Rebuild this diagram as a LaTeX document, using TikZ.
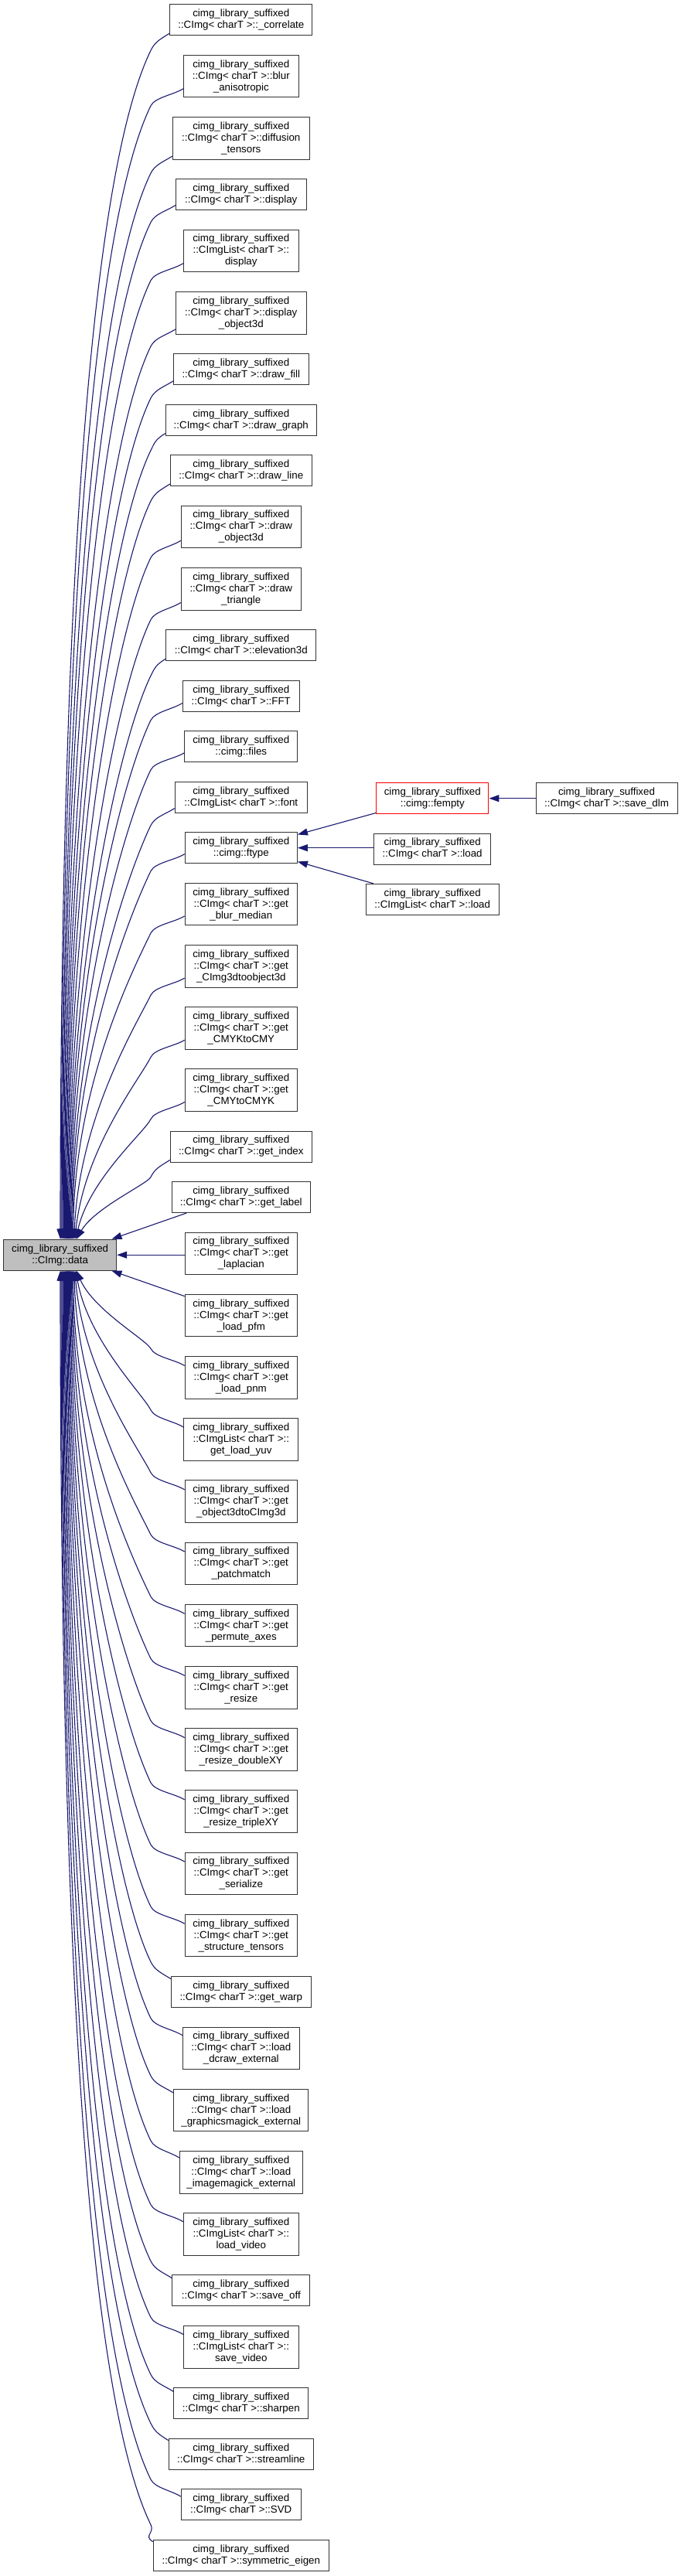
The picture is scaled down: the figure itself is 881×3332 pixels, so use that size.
\documentclass[tikz,border=0pt]{standalone}
\usepackage{fontspec}
\setmainfont{Liberation Sans}
\usetikzlibrary{arrows.meta,calc}
\definecolor{edgeblue}{HTML}{191970}
\definecolor{boxgray}{HTML}{BFBFBF}
\tikzset{
  box/.style={draw=black!80, line width=1pt, rectangle, inner sep=0pt, align=center,
    font=\fontsize{13.33}{15}\selectfont},
  b2/.style={box, minimum height=40pt},
  b3/.style={box, minimum height=54.67pt},
  edge/.style={draw=edgeblue, line width=1.1pt, {Triangle[length=13pt,width=9pt]}-},
}
\newcommand\upedge[2]{%
  \draw[edge] let \p1=(n#1.south west), \p2=(data.north),
    \n1={\x1}, \n2={\y1+3+0.5*max(0,\x1-219.7)}, \n3={\n2-22}, \n4={\n3-\y2}, \n5={0.3*max(0,1-\n4/400)}
  in (#2,\y2) .. controls ({#2+\n5*(195-#2)},{\y2+0.5*\n4}) and ({195-0.054*\n4},{\n3-0.111*\n4}) .. (195,\n3)
     .. controls (200.3,{\n3+10.8}) and ({\n1-12.7},{\n2-7.9}) .. (\n1,\n2);
}
\newcommand\downedge[2]{%
  \draw[edge] let \p1=(n#1.north west), \p2=(data.south),
    \n1={\x1}, \n2={\y1-3-0.5*max(0,\x1-219.7)}, \n3={\n2+22}, \n4={\y2-\n3}, \n5={0.3*max(0,1-\n4/400)}
  in (#2,\y2) .. controls ({#2+\n5*(195-#2)},{\y2-0.5*\n4}) and ({195-0.054*\n4},{\n3+0.111*\n4}) .. (195,\n3)
     .. controls (200.3,{\n3-10.8}) and ({\n1-12.7},{\n2+7.9}) .. (\n1,\n2);
}
\begin{document}
\begin{tikzpicture}[x=1pt,y=1pt]
\useasboundingbox (0,0) rectangle (881,-3332);
\def\L{cimg\_library\_suffixed\\}
\def\C{::CImg< charT >::}
\def\CL{::CImgList< charT >::}
% main node
\node[b2, fill=boxgray, minimum width=146pt] (data) at (77.7,-1623.2) {\L::CImg::data};
% callers
\node[b2, minimum width=184.3pt] (n1) at (311.8,-25.7) {\L\C\_correlate};
\node[b3, minimum width=148.7pt] (n2) at (311.8,-98.57) {\L\C blur\\\_anisotropic};
\node[b3, minimum width=176.7pt] (n3) at (311.8,-178.77) {\L\C diffusion\\\_tensors};
\node[b2, minimum width=168.7pt] (n4) at (311.8,-251.63) {\L\C display};
\node[b3, minimum width=148.7pt] (n5) at (311.8,-324.5) {\L\CL\\display};
\node[b3, minimum width=168.7pt] (n6) at (311.8,-404.7) {\L\C display\\\_object3d};
\node[b2, minimum width=174.6pt] (n7) at (311.8,-477.56) {\L\C draw\_fill};
\node[b2, minimum width=195pt] (n8) at (311.8,-543.09) {\L\C draw\_graph};
\node[b2, minimum width=183pt] (n9) at (311.8,-608.62) {\L\C draw\_line};
\node[b3, minimum width=155pt] (n10) at (311.8,-681.49) {\L\C draw\\\_object3d};
\node[b3, minimum width=155pt] (n11) at (311.8,-761.69) {\L\C draw\\\_triangle};
\node[b2, minimum width=193.7pt] (n12) at (311.8,-834.55) {\L\C elevation3d};
\node[b2, minimum width=151pt] (n13) at (311.8,-900.08) {\L\C FFT};
\node[b2, minimum width=145.7pt] (n14) at (311.8,-965.61) {\L::cimg::files};
\node[b2, minimum width=171pt] (n15) at (311.8,-1031.14) {\L\CL font};
\node[b2, minimum width=145.3pt] (n16) at (311.8,-1096.67) {\L::cimg::ftype};
\node[b3, minimum width=145.3pt] (n17) at (311.8,-1169.54) {\L\C get\\\_blur\_median};
\node[b3, minimum width=145.3pt] (n18) at (311.8,-1249.74) {\L\C get\\\_CImg3dtoobject3d};
\node[b3, minimum width=145.3pt] (n19) at (311.8,-1329.94) {\L\C get\\\_CMYKtoCMY};
\node[b3, minimum width=145.3pt] (n20) at (311.8,-1410.14) {\L\C get\\\_CMYtoCMYK};
\node[b2, minimum width=183pt] (n21) at (311.8,-1483.0) {\L\C get\_index};
\node[b2, minimum width=179pt] (n22) at (311.8,-1548.53) {\L\C get\_label};
\node[b3, minimum width=145.3pt] (n23) at (311.8,-1621.4) {\L\C get\\\_laplacian};
\node[b3, minimum width=145.3pt] (n24) at (311.8,-1701.6) {\L\C get\\\_load\_pfm};
\node[b3, minimum width=145.3pt] (n25) at (311.8,-1781.8) {\L\C get\\\_load\_pnm};
\node[b3, minimum width=148.3pt] (n26) at (311.8,-1862.0) {\L\CL\\get\_load\_yuv};
\node[b3, minimum width=145.3pt] (n27) at (311.8,-1942.2) {\L\C get\\\_object3dtoCImg3d};
\node[b3, minimum width=145.3pt] (n28) at (311.8,-2022.4) {\L\C get\\\_patchmatch};
\node[b3, minimum width=145.3pt] (n29) at (311.8,-2102.6) {\L\C get\\\_permute\_axes};
\node[b3, minimum width=145.3pt] (n30) at (311.8,-2182.8) {\L\C get\\\_resize};
\node[b3, minimum width=145.3pt] (n31) at (311.8,-2263.0) {\L\C get\\\_resize\_doubleXY};
\node[b3, minimum width=145.3pt] (n32) at (311.8,-2343.2) {\L\C get\\\_resize\_tripleXY};
\node[b3, minimum width=145.3pt] (n33) at (311.8,-2423.4) {\L\C get\\\_serialize};
\node[b3, minimum width=145.3pt] (n34) at (311.8,-2503.6) {\L\C get\\\_structure\_tensors};
\node[b2, minimum width=180.6pt] (n35) at (311.8,-2576.46) {\L\C get\_warp};
\node[b3, minimum width=151pt] (n36) at (311.8,-2649.33) {\L\C load\\\_dcraw\_external};
\node[b3, minimum width=173.7pt] (n37) at (311.8,-2729.53) {\L\C load\\\_graphicsmagick\_external};
\node[b3, minimum width=159pt] (n38) at (311.8,-2809.73) {\L\C load\\\_imagemagick\_external};
\node[b3, minimum width=148.7pt] (n39) at (311.8,-2889.93) {\L\CL\\load\_video};
\node[b2, minimum width=177.7pt] (n40) at (311.8,-2962.79) {\L\C save\_off};
\node[b3, minimum width=148.7pt] (n41) at (311.8,-3035.66) {\L\CL\\save\_video};
\node[b2, minimum width=173.7pt] (n42) at (311.8,-3108.52) {\L\C sharpen};
\node[b2, minimum width=187pt] (n43) at (311.8,-3174.05) {\L\C streamline};
\node[b2, minimum width=155pt] (n44) at (311.8,-3239.58) {\L\C SVD};
\node[b2, minimum width=227pt] (n45) at (311.8,-3305.11) {\L\C symmetric\_eigen};
% right column
\node[b2, draw=red, minimum width=145.3pt] (fempty) at (559.3,-1032.7) {\L::cimg::fempty};
\node[b2, minimum width=151pt] (load) at (559.2,-1098) {\L\C load};
\node[b2, minimum width=172.3pt] (lload) at (559.2,-1163.3) {\L\CL load};
\node[b2, minimum width=183pt] (savedlm) at (784.5,-1032.7) {\L\C save\_dlm};
% edges to data, upper
\upedge{1}{78}
\upedge{2}{79.05}
\upedge{3}{80.1}
\upedge{4}{81.15}
\upedge{5}{82.2}
\upedge{6}{83.25}
\upedge{7}{84.3}
\upedge{8}{85.35}
\upedge{9}{86.4}
\upedge{10}{87.45}
\upedge{11}{88.5}
\upedge{12}{89.55}
\upedge{13}{90.6}
\upedge{14}{91.65}
\upedge{15}{92.7}
\upedge{16}{93.75}
\upedge{17}{94.8}
\upedge{18}{95.85}
\upedge{19}{96.9}
\upedge{20}{97.95}
\upedge{21}{99}
\draw[edge] ($(data.north west)+(140.3,0)$) -- ($(n22.south west)+(19.4,0)$);
\draw[edge] (data.east) -- (data.east -| n23.west);
\draw[edge] ($(data.south west)+(140.3,0)$) -- ($(n24.north west)+(0,-2.8)$);
% lower
\downedge{25}{99}
\downedge{26}{97.95}
\downedge{27}{96.9}
\downedge{28}{95.85}
\downedge{29}{94.8}
\downedge{30}{93.75}
\downedge{31}{92.7}
\downedge{32}{91.65}
\downedge{33}{90.6}
\downedge{34}{89.55}
\downedge{35}{88.5}
\downedge{36}{87.45}
\downedge{37}{86.4}
\downedge{38}{85.35}
\downedge{39}{84.3}
\downedge{40}{83.25}
\downedge{41}{82.2}
\downedge{42}{81.15}
\downedge{43}{80.1}
\downedge{44}{79.05}
\downedge{45}{78}
% right column edges
\draw[edge] ($(n16.north east)+(0,-3.3)$) -- ($(fempty.south west)+(0,1.7)$);
\draw[edge] (n16.east) -- (n16.east -| load.west);
\draw[edge] ($(n16.south east)+(0,2.7)$) -- ($(lload.north west)+(10.3,0)$);
\draw[edge] (fempty.east) -- (savedlm.west);
\end{tikzpicture}
\end{document}
